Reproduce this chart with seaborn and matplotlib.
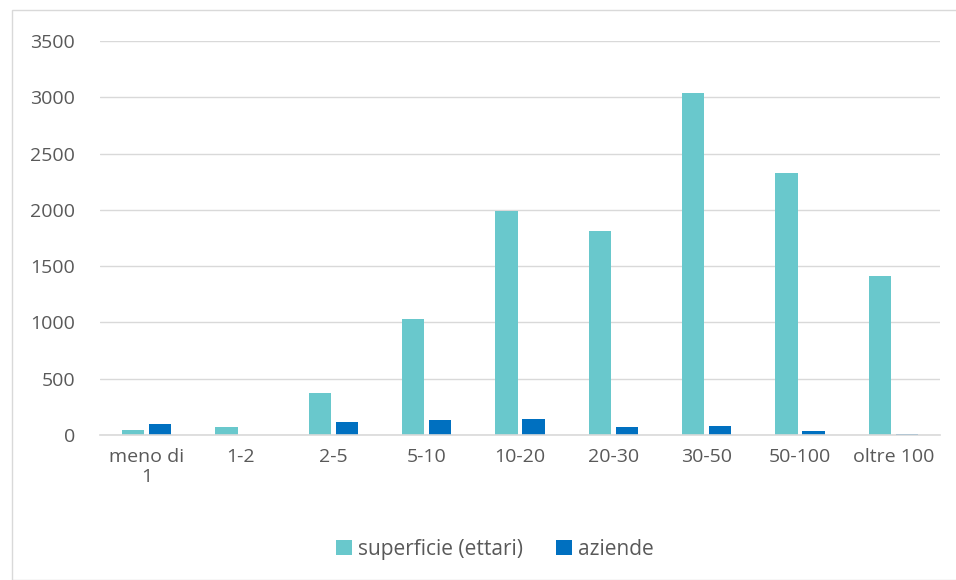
import matplotlib
matplotlib.use("Agg")
import matplotlib.pyplot as plt
import seaborn as sns
import pandas as pd

classi = ["meno di\n1", "1-2", "2-5", "5-10", "10-20", "20-30", "30-50", "50-100", "oltre 100"]
superficie = [45, 70, 373, 1030, 1990, 1813, 3040, 2328, 1410]
aziende = [95, 2, 115, 133, 145, 75, 80, 35, 5]

df = pd.DataFrame({
    "classe": classi * 2,
    "valore": superficie + aziende,
    "serie": ["superficie (ettari)"] * len(classi) + ["aziende"] * len(classi),
})

sns.set_style("white")
plt.rcParams["font.family"] = ["Open Sans", "DejaVu Sans"]

fig = plt.figure(figsize=(9.56, 5.8), dpi=100)
ax = fig.add_axes([0.1046, 0.25, 0.8787, 0.679])

sns.barplot(data=df, x="classe", y="valore", hue="serie",
            palette=["#69C8CC", "#0070C0"], width=0.58, gap=0.17,
            saturation=1, ax=ax, legend=True, linewidth=0)

ax.set_ylim(0, 3500)
ax.set_xlim(-0.5, len(classi) - 0.5)
ax.set_yticks(range(0, 3501, 500))
ax.yaxis.grid(True, color="#D9D9D9", linewidth=1)
ax.set_axisbelow(True)
for s in ["top", "right", "left"]:
    ax.spines[s].set_visible(False)
ax.spines["bottom"].set_color("#D9D9D9")
ax.spines["bottom"].set_linewidth(1.2)
ax.tick_params(axis="both", length=0, labelsize=14, colors="#595959", pad=9)
ax.tick_params(axis="y", pad=18)
ax.set_xlabel("")
ax.set_ylabel("")

ax.legend(loc="center", bbox_to_anchor=(0.47, -0.29), ncol=2, frameon=False,
          fontsize=15, labelcolor="#595959", handlelength=0.75, handleheight=0.75,
          handletextpad=0.3, columnspacing=1.6)

fig.patches.append(plt.Rectangle((12 / 956, 0), 1.2, 1 - 10 / 580, transform=fig.transFigure,
                                 fill=False, edgecolor="#D9D9D9", linewidth=1))

fig.savefig("out.png", dpi=100)
